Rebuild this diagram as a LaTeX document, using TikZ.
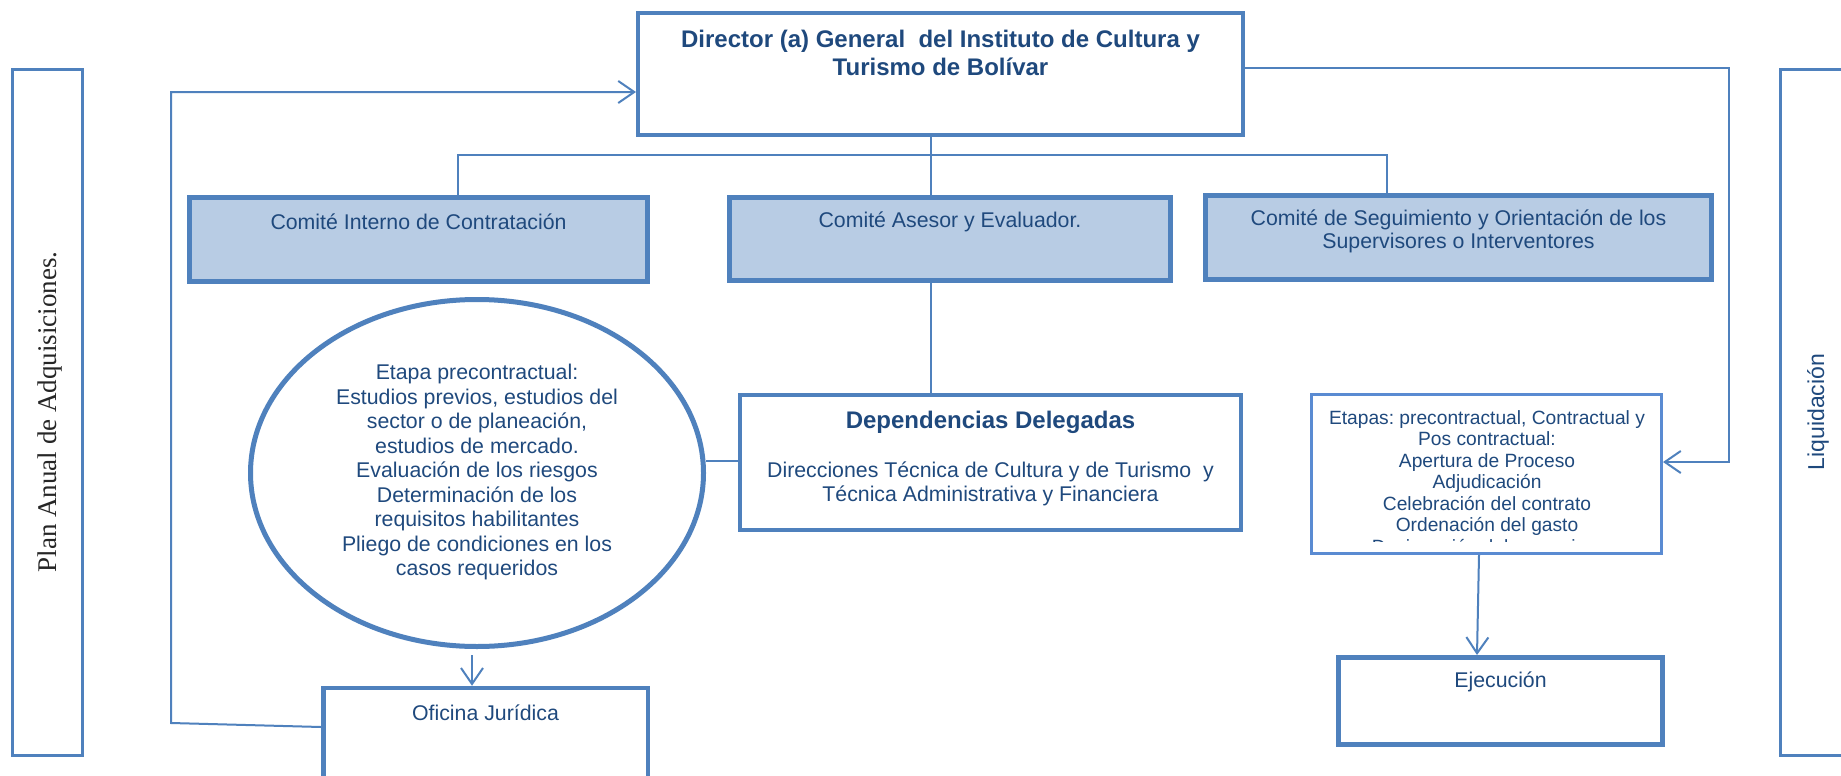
\documentclass[tikz,border=0pt]{standalone}
\usepackage{fontspec}
\setmainfont{Liberation Sans}
\newfontfamily\planserif{Liberation Serif}
\usetikzlibrary{arrows.meta,shapes.geometric,calc}
\definecolor{bord}{HTML}{4F81BD}
\definecolor{boxfill}{HTML}{B8CCE4}
\definecolor{txtc}{HTML}{1F497D}
\definecolor{etab}{HTML}{5A8BD2}
\tikzset{
  box/.style={draw=bord, rectangle, inner sep=0pt},
  fbox/.style={box, fill=boxfill, line width=5pt},
  txt/.style={text=txtc, align=center, inner sep=0pt},
  reg/.style={txt, font=\fontsize{21.3}{24}\selectfont},
  bld/.style={txt, font=\bfseries\fontsize{24}{28}\selectfont},
  conn/.style={draw=bord, line width=2pt},
  connthin/.style={draw=bord, line width=1.6pt},
  tip/.style={-{Straight Barb[length=16pt,width=22pt,line width=2pt]}}
}
\frenchspacing
\begin{document}
\begin{tikzpicture}[x=1pt,y=-1pt,line join=miter]
\clip (0,0) rectangle (1841,776);
\fill[white] (0,0) rectangle (1841,776);

% side bars
\node[box, line width=3pt, minimum width=70pt, minimum height=686pt] (plan) at (47.5,412.5) {};
\node[rotate=90, inner sep=0pt, text=black!85, font=\planserif\fontsize{27}{30}\selectfont] (plan-t) at (50,412) {Plan Anual de Adquisiciones.};
\node[box, line width=3pt, minimum width=119pt, minimum height=686pt] (liq) at (1840,412.5) {};
\node[rotate=90, txt, font=\fontsize{23}{26}\selectfont] (liq-t) at (1818,412) {Liquidación};

% director
\node[box, line width=4pt, minimum width=605pt, minimum height=122pt] (dir) at (940.5,74) {};
\node[bld] (dir-t) at (940.5,53) {Director (a) General\ \ del Instituto de Cultura y\\Turismo de Bolívar};

% committees
\node[fbox, minimum width=458pt, minimum height=84pt] (ci) at (418.5,239.5) {};
\node[reg] (ci-t) at (418.5,222) {Comité Interno de Contratación};
\node[fbox, minimum width=441pt, minimum height=83pt] (ca) at (950,239) {};
\node[reg] (ca-t) at (950,222) {Comité Asesor y Evaluador.};
\node[fbox, minimum width=506pt, minimum height=84pt] (cs) at (1458.5,237.5) {};
\node[txt, font=\fontsize{21.3}{23}\selectfont] (cs-t) at (1458.5,231.5) {Comité de Seguimiento y Orientación de los\\Supervisores o Interventores};

% ellipse
\node[draw=bord, ellipse, line width=5pt, inner sep=0pt, minimum width=453pt, minimum height=347pt] (ell) at (477,473) {};
\node[txt, font=\fontsize{21.3}{24.5}\selectfont] (ell-t) at (477,472) {Etapa precontractual:\\Estudios previos, estudios del\\sector o de planeación,\\estudios de mercado.\\Evaluación de los riesgos\\Determinación de los\\requisitos habilitantes\\Pliego de condiciones en los\\casos requeridos};

% dependencias
\node[box, line width=4pt, minimum width=501pt, minimum height=135pt] (dep) at (990.5,462.5) {};
\node[bld] (dep-t1) at (990.5,422) {Dependencias Delegadas};
\node[reg] (dep-t2) at (990.5,484) {Direcciones Técnica de Cultura y de Turismo\ \ y\\Técnica Administrativa y Financiera};

% etapas
\node[draw=etab, rectangle, inner sep=0pt, line width=3pt, minimum width=350pt, minimum height=159pt] (eta) at (1486.5,474) {};
\begin{scope}
\clip (1312,395) rectangle (1661,541);
\node[txt, font=\fontsize{19.2}{21.5}\selectfont] (eta-t) at (1487,484) {Etapas: precontractual, Contractual y\\Pos contractual:\\Apertura de Proceso\\Adjudicación\\Celebración del contrato\\Ordenación del gasto\\Designación del supervisor};
\end{scope}

% oficina, ejecucion
\node[box, line width=4.5pt, minimum width=324.5pt, minimum height=120pt] (ofi) at (485.5,748) {};
\node[reg] (ofi-t) at (485.5,713) {Oficina Jurídica};
\node[box, line width=5pt, minimum width=324pt, minimum height=87pt] (eje) at (1500.5,701) {};
\node[reg] (eje-t) at (1500.5,682) {Ejecución};

% helper coordinates
\coordinate (busx) at (931,155);
\coordinate (busl) at (458,155);
\coordinate (busr) at (1387,155);
\coordinate (fb1) at (171,723);
\coordinate (fb2) at (171,92);
\coordinate (fbo) at (0,727);
\coordinate (rr1) at (1729,68);
\coordinate (rr2) at (1729,462);
\coordinate (ed) at (0,461);
\coordinate (ee1) at (1479,0);
\coordinate (ee2) at (1477,0);
\coordinate (eo) at (472,0);

% connectors
\draw[conn] (dir.south -| busx) -- (ca.north -| busx);
\draw[conn] (ci.north -| busl) -- (busl) -- (busr) -- (cs.north -| busr);
\draw[conn] (ca.south -| busx) -- (dep.north -| busx);
\draw[conn] (ell.east |- ed) -- (dep.west |- ed);
\draw[conn, tip] ($(ell.south -| eo)+(0,6)$) -- (ofi.north -| eo);
\draw[conn, tip] (ofi.west |- fbo) -- (fb1) -- (fb2) -- (fb2 -| dir.west);
\draw[connthin, tip] (dir.east |- rr1) -- (rr1) -- (rr2) -- (rr2 -| eta.east);
\draw[conn, tip] (eta.south -| ee1) -- (eje.north -| ee2);
\end{tikzpicture}
\end{document}
